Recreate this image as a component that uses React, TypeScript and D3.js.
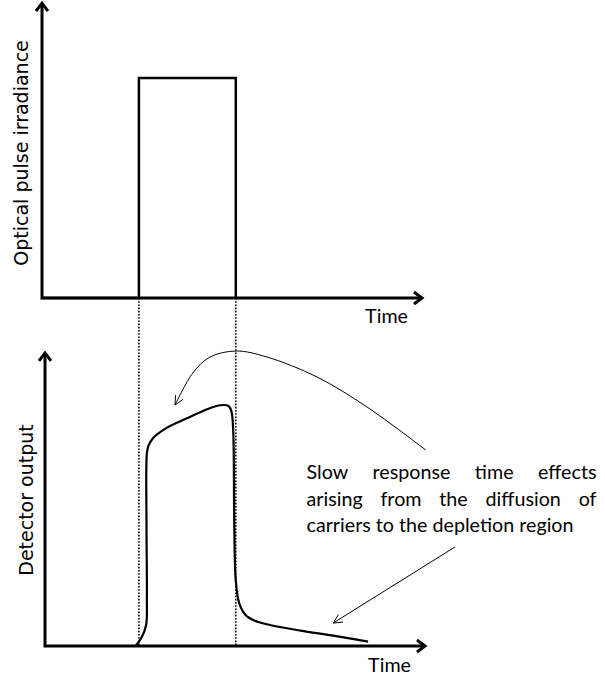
import React, { useMemo } from "react";
import * as d3 from "d3";

// ---- data (time in arbitrary units, amplitude normalised) ----
const pulseStart = 2.55;
const pulseEnd = 5.1;
const pulseLevel = 1;
const topAxisMax = 1.34;
const timeMax = 10;

const pulseTimes = [0, pulseStart, pulseStart, pulseEnd, pulseEnd];
const pulseValues = [0, 0, pulseLevel, pulseLevel, 0];

const detectorTimes = [2.46, 2.62, 2.74, 2.76, 2.75, 2.76, 2.8, 2.92, 3.28, 3.8, 4.5, 4.76, 4.9, 4.98, 5.03, 5.06, 5.1, 5.19, 5.35, 5.6, 6.0, 6.8, 7.7, 8.58];
const detectorValues = [0, 0.035, 0.087, 0.2, 0.5, 0.8, 0.83, 0.862, 0.905, 0.944, 0.992, 1.0, 0.997, 0.977, 0.9, 0.5, 0.27, 0.178, 0.13, 0.105, 0.087, 0.064, 0.042, 0.018];
const bottomAxisMax = 1.216;

const curvedArrowTimes = [10.1, 8.55, 7.24, 5.92, 5.11, 4.42, 3.97, 3.5];
const curvedArrowValues = [0.813, 0.992, 1.116, 1.199, 1.224, 1.199, 1.133, 1.0];

const straightArrowTimes = [10.87, 7.66];
const straightArrowValues = [0.411, 0.095];

const annotationLines = [
  "Slow response time effects",
  "arising from the diffusion of",
  "carriers to the depletion region",
];
const justifiedFlags = [true, true, false];
const topYLabel = "Optical pulse irradiance";
const bottomYLabel = "Detector output";
const xLabel = "Time";

const FONT = "Lato, 'Open Sans', sans-serif";
const FS = 19.7;
const YFONT = "'DejaVu Sans', Verdana, sans-serif";
const YFS = 19;

function measure(text: string, size: number): number {
  const c = document.createElement("canvas");
  const ctx = c.getContext("2d")!;
  ctx.font = `${size}px Lato`;
  return ctx.measureText(text).width;
}

function arrowHead(tip: [number, number], from: [number, number], len: number, ang: number) {
  const a = Math.atan2(from[1] - tip[1], from[0] - tip[0]);
  const p1: [number, number] = [tip[0] + len * Math.cos(a + ang), tip[1] + len * Math.sin(a + ang)];
  const p2: [number, number] = [tip[0] + len * Math.cos(a - ang), tip[1] + len * Math.sin(a - ang)];
  return `M${p1[0]},${p1[1]}L${tip[0]},${tip[1]}L${p2[0]},${p2[1]}`;
}

export default function App() {
  const W = 605, H = 682;
  const x = d3.scaleLinear().domain([0, timeMax]).range([42, 422]);
  const yTop = d3.scaleLinear().domain([0, pulseLevel]).range([298, 78]);
  const yBot = d3.scaleLinear().domain([0, 1]).range([646, 405]);
  const xBot = d3.scaleLinear().domain([0, timeMax]).range([45, 425]);

  const pulseLine = d3.line<number>().x((_, i) => x(pulseTimes[i])).y((_, i) => yTop(pulseValues[i]));
  const detLine = d3
    .line<number>()
    .x((_, i) => x(detectorTimes[i]))
    .y((_, i) => yBot(detectorValues[i]))
    .curve(d3.curveCatmullRom.alpha(0.5));
  const annLine = d3
    .line<number>()
    .x((_, i) => x(curvedArrowTimes[i]))
    .y((_, i) => yBot(curvedArrowValues[i]))
    .curve(d3.curveCatmullRom.alpha(0.5));

  const textLeft = 306.5, textRight = 596.5;
  const baselines = [479, 505.5, 532];

  const words = useMemo(() => {
    const out: { t: string; x: number; y: number }[] = [];
    annotationLines.forEach((line, li) => {
      const ws = line.split(" ");
      if (!justifiedFlags[li]) {
        out.push({ t: line, x: textLeft, y: baselines[li] });
        return;
      }
      const widths = ws.map((w) => measure(w, FS));
      const total = widths.reduce((a, b) => a + b, 0);
      const gap = (textRight - textLeft - total) / (ws.length - 1);
      let cx = textLeft;
      ws.forEach((w, i) => {
        out.push({ t: w, x: cx, y: baselines[li] });
        cx += widths[i] + gap;
      });
    });
    return out;
  }, []);

  const n = curvedArrowTimes.length;
  const curvedTip: [number, number] = [x(curvedArrowTimes[n - 1]), yBot(curvedArrowValues[n - 1])];
  const curvedPrev: [number, number] = [x(curvedArrowTimes[n - 2]), yBot(curvedArrowValues[n - 2])];
  const sTip: [number, number] = [x(straightArrowTimes[1]), yBot(straightArrowValues[1])];
  const sFrom: [number, number] = [x(straightArrowTimes[0]), yBot(straightArrowValues[0])];

  const axisArrow = (tip: [number, number], dir: "up" | "right") => {
    const s = 8;
    return dir === "up"
      ? `M${tip[0] - 6},${tip[1] + s}L${tip[0]},${tip[1]}L${tip[0] + 6},${tip[1] + s}`
      : `M${tip[0] - s},${tip[1] - 6}L${tip[0]},${tip[1]}L${tip[0] - s},${tip[1] + 6}`;
  };

  const topAxisTop = yTop(topAxisMax);
  const botAxisTop = yBot(bottomAxisMax);

  return (
    <svg width={W} height={H} style={{ position: "absolute", left: 0, top: 0, background: "#fff" }} fontFamily={FONT}>
      <rect width={W} height={H} fill="#fff" />
      {/* dotted guide lines */}
      {[pulseStart, pulseEnd].map((t, i) => (
        <line key={i} x1={x(t)} x2={x(t)} y1={yTop(0)} y2={yBot(0)} stroke="#000" strokeWidth={1.6} strokeDasharray="1.6,1.6" />
      ))}
      {/* top axes */}
      <path d={`M${x(0)},${topAxisTop + 1}V${yTop(0)}H${x(timeMax) - 1}`} fill="none" stroke="#000" strokeWidth={3} />
      <path d={axisArrow([x(0), topAxisTop], "up")} fill="none" stroke="#000" strokeWidth={3} />
      <path d={axisArrow([x(timeMax), yTop(0)], "right")} fill="none" stroke="#000" strokeWidth={3} />
      {/* pulse */}
      <path d={pulseLine(pulseTimes) || ""} fill="none" stroke="#000" strokeWidth={2.5} />
      {/* bottom axes */}
      <path d={`M${xBot(0)},${botAxisTop + 1}V${yBot(0)}H${xBot(timeMax) - 1}`} fill="none" stroke="#000" strokeWidth={3} />
      <path d={axisArrow([xBot(0), botAxisTop], "up")} fill="none" stroke="#000" strokeWidth={3} />
      <path d={axisArrow([xBot(timeMax), yBot(0)], "right")} fill="none" stroke="#000" strokeWidth={3} />
      {/* detector output */}
      <path d={detLine(detectorTimes) || ""} fill="none" stroke="#000" strokeWidth={2.2} strokeLinejoin="round" />
      {/* annotation arrows */}
      <path d={annLine(curvedArrowTimes) || ""} fill="none" stroke="#000" strokeWidth={1} />
      <path d={arrowHead(curvedTip, curvedPrev, 10, 0.45)} fill="none" stroke="#000" strokeWidth={1} />
      <line x1={sFrom[0]} y1={sFrom[1]} x2={sTip[0]} y2={sTip[1]} stroke="#000" strokeWidth={1} />
      <path d={arrowHead(sTip, sFrom, 10, 0.45)} fill="none" stroke="#000" strokeWidth={1} />
      {/* labels */}
      <text x={408} y={323} fontSize={FS} textAnchor="end" fill="#000">{xLabel}</text>
      <text x={411} y={672} fontSize={FS} textAnchor="end" fill="#000">{xLabel}</text>
      <text transform={`translate(28,153) rotate(-90)`} fontFamily={YFONT} fontSize={YFS} textAnchor="middle" fill="#000">{topYLabel}</text>
      <text transform={`translate(33,500) rotate(-90)`} fontFamily={YFONT} fontSize={YFS} textAnchor="middle" fill="#000">{bottomYLabel}</text>
      {words.map((w, i) => (
        <text key={i} x={w.x} y={w.y} fontSize={FS} fill="#000">{w.t}</text>
      ))}
    </svg>
  );
}
